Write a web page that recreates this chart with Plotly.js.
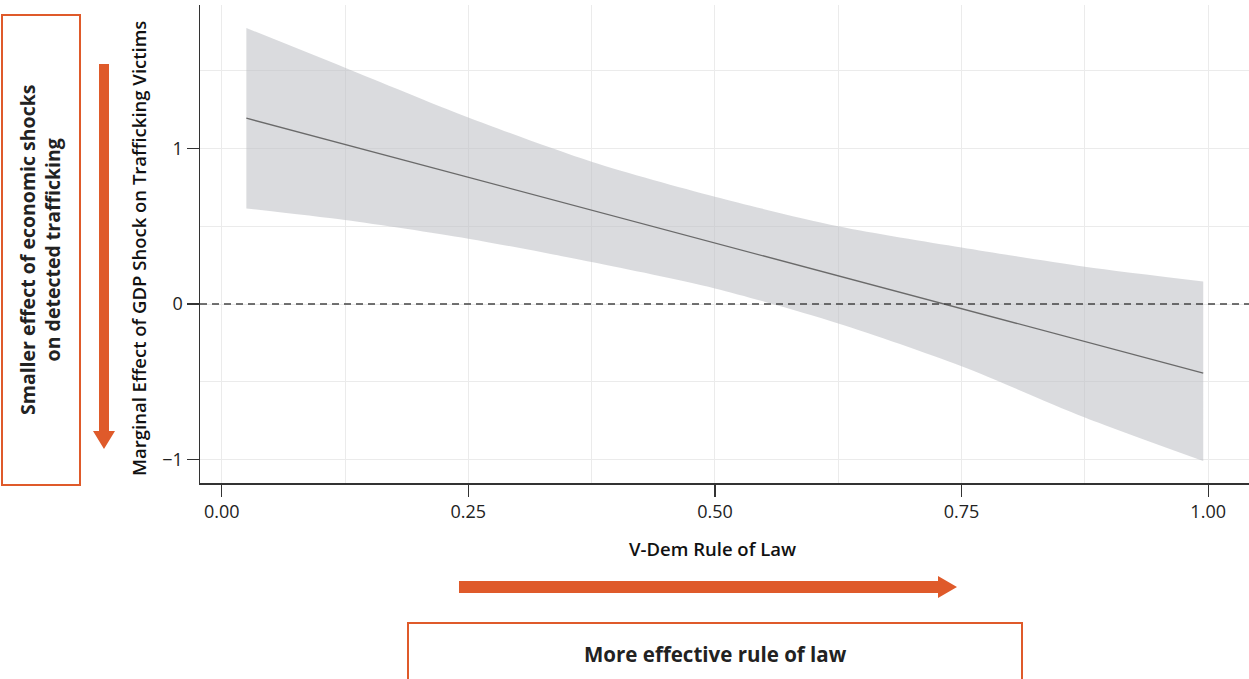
<!DOCTYPE html>
<html>
<head>
<meta charset="utf-8">
<script src="https://cdn.plot.ly/plotly-3.0.1.min.js"></script>
<style>html,body{margin:0;padding:0;background:#fff;}#chart{width:1249px;height:679px;}</style>
</head>
<body>
<div id="chart"></div>
<script>
// Data
const ruleOfLaw = [0.025, 0.125, 0.25, 0.375, 0.5, 0.625, 0.75, 0.875, 0.995];
const upperCI   = [1.775, 1.52, 1.20, 0.915, 0.69, 0.50, 0.363, 0.24, 0.145];
const lowerCI   = [0.615, 0.54, 0.42, 0.27, 0.10, -0.125, -0.40, -0.73, -1.01];
const effect    = [1.195, 1.026, 0.815, 0.604, 0.393, 0.181, -0.030, -0.241, -0.444];
const xTicks = [0, 0.25, 0.5, 0.75, 1.0];
const xTickLabels = ["0.00", "0.25", "0.50", "0.75", "1.00"];
const yTicks = [-1, 0, 1];
const yTickLabels = ["\u22121", "0", "1"];

const W = 1249, H = 679, ML = 200, MR = 0, MT = 5, MB = 196;
const PW = W - ML - MR, PH = H - MT - MB;
const xp = px => (px - ML) / PW;
const yp = py => (H - MB - py) / PH;
const pathOf = pts => 'M ' + pts.map(p => xp(p[0]).toFixed(5) + ',' + yp(p[1]).toFixed(5)).join(' L ') + ' Z';

const orange = '#df5a2a';
const FONT = '"Open Sans", Lato, sans-serif';

const traces = [
  {x: ruleOfLaw, y: upperCI, type: 'scatter', mode: 'lines', line: {width: 0, color: 'rgba(0,0,0,0)', shape: 'spline', smoothing: 0.8}, hoverinfo: 'skip', showlegend: false},
  {x: ruleOfLaw, y: lowerCI, type: 'scatter', mode: 'lines', fill: 'tonexty', fillcolor: 'rgba(188,190,195,0.55)', line: {width: 0, color: 'rgba(0,0,0,0)', shape: 'spline', smoothing: 0.8}, hoverinfo: 'skip', showlegend: false},
  {x: ruleOfLaw, y: effect, type: 'scatter', mode: 'lines', line: {width: 1.3, color: '#6a6a6a'}, showlegend: false}
];

const layout = {
  width: W, height: H,
  margin: {l: ML, r: MR, t: MT, b: MB, pad: 0},
  paper_bgcolor: '#fff', plot_bgcolor: '#fff',
  font: {family: FONT, color: '#222', size: 18},
  showlegend: false,
  xaxis: {
    range: [-0.022, 1.0414], tickvals: xTicks, ticktext: xTickLabels,
    ticks: 'outside', ticklen: 12, tickwidth: 1.2, tickcolor: '#333',
    showline: true, linecolor: '#333', linewidth: 1.5,
    showgrid: true, gridcolor: '#ebebeb', gridwidth: 1, zeroline: false,
    minor: {dtick: 0.125, tick0: 0, showgrid: true, gridcolor: '#ebebeb', gridwidth: 1, ticks: ''},
    tickfont: {size: 18, color: '#222', family: FONT}, fixedrange: true
  },
  yaxis: {
    range: [-1.151, 1.923], tickvals: yTicks, ticktext: yTickLabels,
    ticks: 'outside', ticklen: 12, tickwidth: 1.2, tickcolor: '#333',
    showline: true, linecolor: '#333', linewidth: 1.5,
    showgrid: true, gridcolor: '#ebebeb', gridwidth: 1, zeroline: false,
    minor: {dtick: 0.5, tick0: 0, showgrid: true, gridcolor: '#ebebeb', gridwidth: 1, ticks: ''},
    tickfont: {size: 18, color: '#222', family: FONT}, fixedrange: true
  },
  shapes: [
    {type: 'line', xref: 'paper', yref: 'y', x0: 0, x1: 1, y0: 0, y1: 0, line: {color: '#444', width: 1.3, dash: '7px,5px'}},
    {type: 'rect', xref: 'paper', yref: 'paper', x0: xp(2), x1: xp(80), y0: yp(485), y1: yp(15), line: {color: orange, width: 2}, fillcolor: 'rgba(0,0,0,0)'},
    {type: 'path', xref: 'paper', yref: 'paper', path: pathOf([[99,64],[109,64],[109,431],[115,431],[104,449],[93,431],[99,431]]), fillcolor: orange, line: {width: 0}},
    {type: 'path', xref: 'paper', yref: 'paper', path: pathOf([[459,581],[938,581],[938,576],[957,587],[938,598],[938,593],[459,593]]), fillcolor: orange, line: {width: 0}},
    {type: 'rect', xref: 'paper', yref: 'paper', x0: xp(408), x1: xp(1022), y0: yp(690), y1: yp(623), line: {color: orange, width: 2}, fillcolor: 'rgba(0,0,0,0)'}
  ],
  annotations: [
    {text: 'Marginal Effect of GDP Shock on Trafficking Victims', xref: 'paper', yref: 'paper', x: xp(138), y: yp(249), textangle: -90, showarrow: false, font: {size: 18.5, family: FONT, color: '#111', weight: 600}, xanchor: 'center', yanchor: 'middle'},
    {text: 'V-Dem Rule of Law', xref: 'paper', yref: 'paper', x: xp(712), y: yp(548), showarrow: false, font: {size: 18.5, family: FONT, color: '#111', weight: 600}, xanchor: 'center', yanchor: 'middle'},
    {text: 'Smaller effect of economic shocks<br>on detected trafficking', xref: 'paper', yref: 'paper', x: xp(40), y: yp(250), textangle: -90, showarrow: false, font: {size: 19.5, family: FONT, color: '#222', weight: 700}, xanchor: 'center', yanchor: 'middle'},
    {text: 'More effective rule of law', xref: 'paper', yref: 'paper', x: xp(715), y: yp(654), showarrow: false, font: {size: 20.5, family: FONT, color: '#222', weight: 700}, xanchor: 'center', yanchor: 'middle'}
  ]
};

Plotly.newPlot('chart', traces, layout, {displayModeBar: false, staticPlot: true});
</script>
</body>
</html>
